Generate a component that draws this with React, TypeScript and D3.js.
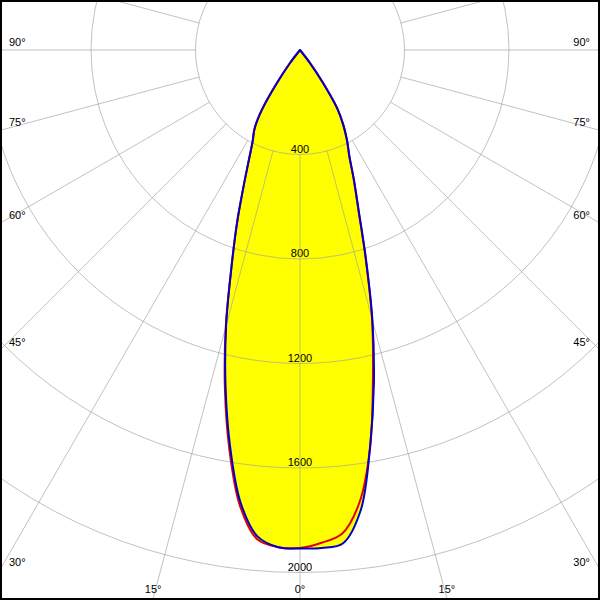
import React from "react";
import * as d3 from "d3";

// Polar angles (degrees from nadir) and luminous intensities (cd)
const ANGLES = [0, 2.5, 5, 7.5, 10, 12.5, 15, 17.5, 20, 22.5, 25, 27.5, 30, 32.5, 35, 37.5, 40, 50, 60, 70, 80, 90];
// C0/C180 plane (blue): left half = C180, right half = C0
const C180 = [1908, 1905, 1869, 1746, 1541, 1317, 1093, 873, 705, 564, 462, 392, 348, 272, 152, 65, 0, 0, 0, 0, 0, 0];
const C0 = [1908, 1908, 1895, 1778, 1544, 1307, 1071, 840, 659, 541, 447, 391, 333, 268, 154, 63, 0, 0, 0, 0, 0, 0];
// C90/C270 plane (red): left half = C270, right half = C90
const C270 = [1906, 1905, 1880, 1760, 1555, 1328, 1098, 873, 705, 564, 462, 392, 348, 272, 152, 65, 0, 0, 0, 0, 0, 0];
const C90 = [1906, 1888, 1858, 1746, 1545, 1290, 1065, 835, 655, 538, 445, 388, 330, 265, 150, 60, 0, 0, 0, 0, 0, 0];

const RINGS = [400, 800, 1200, 1600, 2000];
const SPOKES = d3.range(0, 360, 15);
const ANGLE_TICKS = [0, 15, 30, 45, 60, 75, 90];

const W = 600;
const H = 600;
const CX = 300;
const CY = 50;
const FONT = "'Liberation Sans', Arial, sans-serif";

const rScale = d3.scaleLinear().domain([0, 2000]).range([0, 522.5]);
const rad = (deg: number) => (deg * Math.PI) / 180;

function planePath(left: number[], right: number[]): string {
  const pts: [number, number][] = [];
  for (let i = ANGLES.length - 1; i >= 0; i--) {
    pts.push([Math.PI + rad(ANGLES[i]), rScale(left[i])]);
  }
  for (let i = 1; i < ANGLES.length; i++) {
    pts.push([Math.PI - rad(ANGLES[i]), rScale(right[i])]);
  }
  const gen = d3
    .lineRadial<[number, number]>()
    .angle((d) => d[0])
    .radius((d) => d[1])
    .curve(d3.curveCatmullRom.alpha(0.5));
  return (gen(pts) || "") + "Z";
}

type Lab = { x: number; y: number; anchor: string; text: string };

function angleLabels(): Lab[] {
  const out: Lab[] = [];
  const bottom = H - 2;
  for (const t of ANGLE_TICKS) {
    const sides = t === 0 ? [1] : [-1, 1];
    for (const s of sides) {
      const dx = s * Math.sin(rad(t));
      const dy = Math.cos(rad(t));
      let placed = false;
      if (dy > 1e-6) {
        const k = (bottom - CY) / dy;
        const x = CX + dx * k;
        if (x >= 0 && x <= W) {
          out.push({ x, y: H - 7, anchor: "middle", text: `${t}°` });
          placed = true;
        }
      }
      if (!placed) {
        const k = CX / Math.abs(dx);
        const y = CY + dy * k;
        out.push({
          x: s < 0 ? 9 : W - 10,
          y: y - 4,
          anchor: s < 0 ? "start" : "end",
          text: `${t}°`,
        });
      }
    }
  }
  return out;
}

export default function App() {
  const bluePath = planePath(C180, C0);
  const redPath = planePath(C270, C90);
  const r0 = rScale(RINGS[0]);
  const labels = angleLabels();
  const gridStroke = "#a0a0a0";
  const gridOpacity = 0.65;

  return (
    <svg
      width={W}
      height={H}
      style={{ position: "absolute", left: 0, top: 0, display: "block" }}
      fontFamily={FONT}
    >
      <defs>
        <clipPath id="frameClip">
          <rect x={2} y={2} width={W - 4} height={H - 4} />
        </clipPath>
      </defs>
      <rect x={0} y={0} width={W} height={H} fill="#ffffff" />

      <g transform={`translate(${CX},${CY})`}>
        <path d={bluePath} fill="#ffff00" stroke="none" />
        <path d={redPath} fill="#ffff00" stroke="none" />
      </g>

      {/* intensity labels */}
      {RINGS.map((v) => (
        <text
          key={`v${v}`}
          x={CX}
          y={CY + rScale(v) - 2}
          textAnchor="middle"
          fontSize={11}
          fill="#000"
        >
          {v}
        </text>
      ))}

      {/* grid */}
      <g clipPath="url(#frameClip)" fill="none" stroke={gridStroke} strokeOpacity={gridOpacity} strokeWidth={1}>
        {RINGS.map((v) => (
          <circle key={`c${v}`} cx={CX} cy={CY} r={rScale(v)} />
        ))}
        {SPOKES.map((a) => {
          const dx = Math.sin(rad(a));
          const dy = Math.cos(rad(a));
          return (
            <line
              key={`s${a}`}
              x1={CX + dx * r0}
              y1={CY + dy * r0}
              x2={CX + dx * 1000}
              y2={CY + dy * 1000}
            />
          );
        })}
      </g>

      {/* curves */}
      <g transform={`translate(${CX},${CY})`} fill="none" strokeWidth={2} strokeLinejoin="round">
        <path d={redPath} stroke="#e00000" />
        <path d={bluePath} stroke="#0000c8" />
      </g>

      {/* angle labels */}
      {labels.map((l, i) => (
        <text key={`a${i}`} x={l.x} y={l.y} textAnchor={l.anchor} fontSize={11} fill="#000">
          {l.text}
        </text>
      ))}

      <rect x={1} y={1} width={W - 2} height={H - 2} fill="none" stroke="#000" strokeWidth={2} />
    </svg>
  );
}
